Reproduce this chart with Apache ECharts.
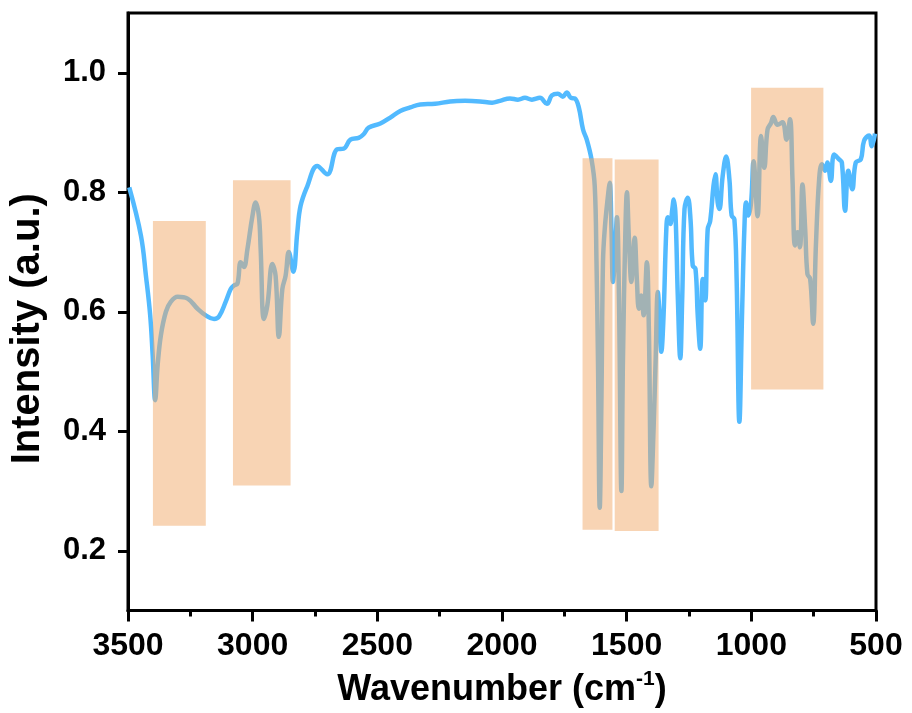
<!DOCTYPE html>
<html>
<head>
<meta charset="utf-8">
<script src="https://cdn.jsdelivr.net/npm/echarts@6/dist/echarts.min.js"></script>
<style>
html,body{margin:0;padding:0;background:#fff;}
#chart{width:912px;height:713px;}
</style>
</head>
<body>
<div id="chart"></div>
<script>
// Wavenumber (cm-1) and intensity (a.u.)
const wavenumbers = [3495,3448,3428,3411,3401,3391,3381,3368,3348,3328,3301,3261,3221,3188,3155,3135,3108,3088,3075,3061,3048,3035,3021,3001,2988,2975,2968,2955,2941,2921,2908,2895,2881,2868,2855,2837,2821,2808,2781,2741,2701,2661,2635,2608,2575,2555,2535,2488,2448,2408,2368,2328,2268,2208,2148,2088,2040,2008,1968,1936,1908,1880,1848,1820,1800,1776,1756,1740,1724,1708,1692,1675,1660,1641,1628,1621,1615,1608,1601,1595,1588,1575,1568,1561,1555,1548,1539,1531,1521,1515,1505,1499,1491,1481,1475,1468,1459,1451,1441,1432,1419,1411,1401,1392,1384,1375,1368,1361,1352,1341,1335,1325,1317,1311,1304,1295,1285,1277,1268,1255,1244,1235,1224,1215,1205,1195,1185,1175,1165,1152,1144,1135,1128,1115,1101,1088,1079,1068,1059,1048,1037,1028,1021,1012,1001,991,975,961,948,935,921,912,895,875,859,845,835,825,815,805,795,784,775,764,752,741,728,717,704,695,681,668,648,637,624,611,595,581,561,548,528,517,504];
const intensity = [0.808,0.727,0.660,0.594,0.527,0.452,0.511,0.561,0.600,0.617,0.625,0.622,0.605,0.594,0.588,0.592,0.617,0.638,0.644,0.647,0.683,0.675,0.705,0.760,0.783,0.760,0.705,0.588,0.611,0.680,0.660,0.558,0.638,0.660,0.700,0.667,0.733,0.777,0.810,0.844,0.830,0.872,0.873,0.888,0.891,0.897,0.908,0.915,0.925,0.936,0.942,0.947,0.948,0.952,0.953,0.952,0.950,0.953,0.957,0.955,0.958,0.955,0.958,0.948,0.962,0.965,0.960,0.967,0.958,0.957,0.942,0.905,0.888,0.855,0.810,0.683,0.517,0.272,0.460,0.683,0.738,0.794,0.816,0.738,0.650,0.683,0.758,0.627,0.300,0.517,0.738,0.800,0.722,0.650,0.683,0.724,0.653,0.605,0.627,0.594,0.683,0.572,0.308,0.405,0.517,0.633,0.594,0.533,0.594,0.738,0.758,0.747,0.772,0.788,0.761,0.627,0.522,0.627,0.772,0.791,0.755,0.677,0.672,0.594,0.538,0.655,0.619,0.738,0.752,0.810,0.830,0.783,0.772,0.827,0.860,0.822,0.761,0.755,0.655,0.416,0.600,0.738,0.783,0.761,0.783,0.852,0.760,0.894,0.841,0.905,0.916,0.926,0.913,0.917,0.888,0.922,0.822,0.711,0.733,0.708,0.813,0.738,0.663,0.655,0.580,0.711,0.822,0.847,0.836,0.850,0.819,0.863,0.855,0.850,0.769,0.836,0.805,0.850,0.855,0.886,0.895,0.877,0.898];

// Highlighted bands (wavenumber range and intensity range)
const bandStart  = [3400, 3079, 1677, 1548, 1001];
const bandEnd    = [3188, 2848, 1557, 1372, 711];
const bandTop    = [0.752, 0.820, 0.857, 0.855, 0.975];
const bandBottom = [0.242, 0.309, 0.235, 0.233, 0.470];

// Axis tick labels
const xTicks = [3500, 3000, 2500, 2000, 1500, 1000, 500];
const yTicks = [0.2, 0.4, 0.6, 0.8, 1.0];

const lineData = wavenumbers.map((w, i) => [w, intensity[i]]);
const bandData = bandStart.map((s, i) => [s, bandEnd[i], bandTop[i], bandBottom[i]]);

const FONT = '"Liberation Sans", Arial, sans-serif';
const chart = echarts.init(document.getElementById('chart'), null, {renderer: 'canvas'});
chart.setOption({
  animation: false,
  backgroundColor: '#fff',
  grid: {left: 127, right: 36, top: 13, bottom: 99, show: true, borderColor: '#000', borderWidth: 3, backgroundColor: 'transparent'},
  xAxis: {
    type: 'value', inverse: true, min: 500, max: 3500, interval: 500,
    name: 'Wavenumber (cm{sup|-1})', nameLocation: 'middle', nameGap: 58,
    nameTextStyle: {fontFamily: FONT, fontWeight: 'bold', fontSize: 36, color: '#000',
      rich: {sup: {fontFamily: FONT, fontWeight: 'bold', fontSize: 21, color: '#000', verticalAlign: 'top', padding: [0, 0, 22, 0]}}},
    axisLine: {show: true, lineStyle: {color: '#000', width: 3}},
    axisTick: {show: true, length: 11, lineStyle: {color: '#000', width: 3}},
    minorTick: {show: true, splitNumber: 2, length: 6, lineStyle: {color: '#000', width: 3}},
    axisLabel: {fontFamily: FONT, fontWeight: 'bold', fontSize: 32, color: '#000', margin: 20,
      customValues: xTicks, formatter: v => String(v)},
    splitLine: {show: false}
  },
  yAxis: {
    type: 'value', min: 0.1, max: 1.1,
    name: 'Intensity (a.u.)', nameLocation: 'middle', nameGap: 80, nameRotate: 90,
    nameTextStyle: {fontFamily: FONT, fontWeight: 'bold', fontSize: 40, color: '#000', padding: [0, 34, 0, 0]},
    axisLine: {show: true, lineStyle: {color: '#000', width: 3}},
    axisTick: {show: true, length: 10, lineStyle: {color: '#000', width: 3}, customValues: yTicks},
    axisLabel: {fontFamily: FONT, fontWeight: 'bold', fontSize: 31, color: '#000', margin: 22,
      customValues: yTicks, formatter: v => v.toFixed(1)},
    splitLine: {show: false}
  },
  series: [
    {
      type: 'line', data: lineData, showSymbol: false, smooth: 0.4, z: 2,
      lineStyle: {color: '#52BAFF', width: 4.5}
    },
    {
      type: 'custom', z: 5, data: bandData,
      encode: {x: [0, 1], y: [2, 3]},
      renderItem: function (params, api) {
        const p1 = api.coord([api.value(0), api.value(2)]);
        const p2 = api.coord([api.value(1), api.value(3)]);
        return {
          type: 'rect',
          shape: {x: Math.min(p1[0], p2[0]), y: Math.min(p1[1], p2[1]), width: Math.abs(p2[0] - p1[0]), height: Math.abs(p2[1] - p1[1])},
          style: {fill: 'rgba(241,169,105,0.5)'}
        };
      }
    }
  ]
});
</script>
</body>
</html>
